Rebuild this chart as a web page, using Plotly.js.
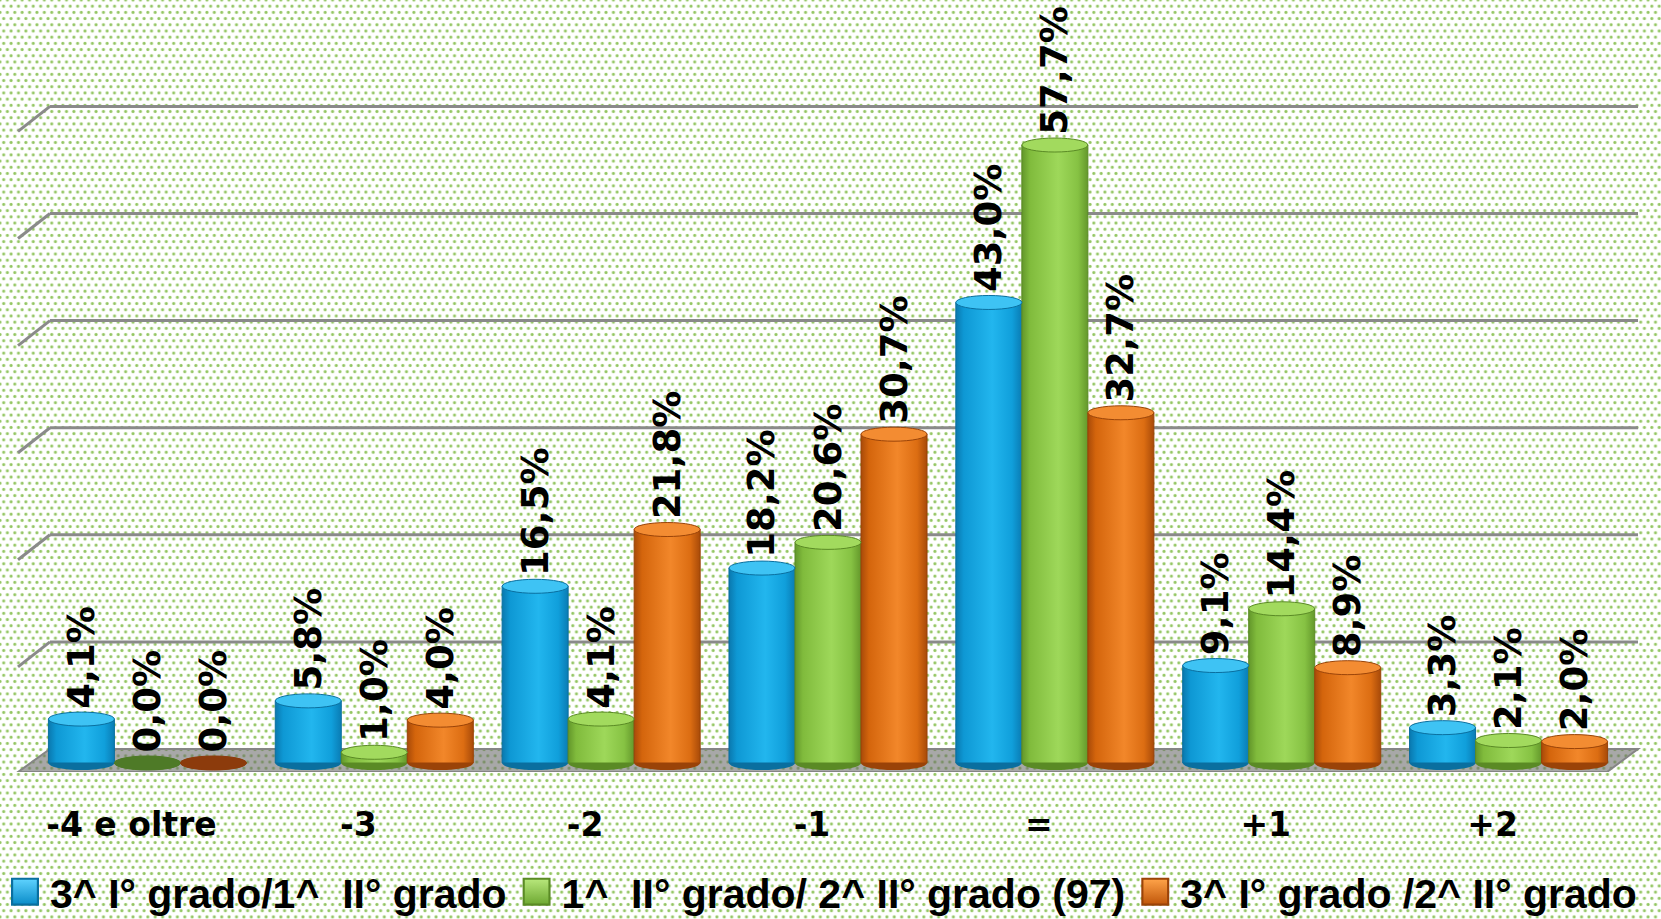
<!DOCTYPE html>
<html>
<head>
<meta charset="utf-8">
<script src="https://cdn.plot.ly/plotly-3.0.1.min.js"></script>
<style>
  html, body { margin: 0; padding: 0; background: #ffffff; }
  #chart {
    width: 1661px; height: 919px;
    background-color: #ffffff;
    background-image:
      radial-gradient(circle at center, #8cbf5c 0, #9ccb6e 1.1px, rgba(255,255,255,0) 2px),
      radial-gradient(circle at center, #8cbf5c 0, #9ccb6e 1.1px, rgba(255,255,255,0) 2px);
    background-size: 7.4px 12.4px;
    background-position: 0 0, 3.7px 6.2px;
  }
  #chart .barlayer .trace:nth-child(1) .point path { fill: url(#gBlue) !important; }
  #chart .barlayer .trace:nth-child(2) .point path { fill: url(#gGreen) !important; }
  #chart .barlayer .trace:nth-child(3) .point path { fill: url(#gOrange) !important; }
  #chart .legend .legendpoints path {
    transform-box: fill-box; transform-origin: center; transform: translate(25px, 0px) scale(2.15);
  }
  #chart .legend .traces:nth-child(1) .legendpoints path { fill: url(#gBlueV) !important; }
  #chart .legend .traces:nth-child(2) .legendpoints path { fill: url(#gGreenV) !important; }
  #chart .legend .traces:nth-child(3) .legendpoints path { fill: url(#gOrangeV) !important; }
</style>
</head>
<body>
<svg width="0" height="0" style="position:absolute">
  <defs>
    <linearGradient id="gBlue" x1="0" x2="1" y1="0" y2="0">
      <stop offset="0" stop-color="#0a78ae"/>
      <stop offset="0.12" stop-color="#0e98d4"/>
      <stop offset="0.55" stop-color="#22b6ee"/>
      <stop offset="0.85" stop-color="#109fdb"/>
      <stop offset="1" stop-color="#0a7cb4"/>
    </linearGradient>
    <linearGradient id="gGreen" x1="0" x2="1" y1="0" y2="0">
      <stop offset="0" stop-color="#62962a"/>
      <stop offset="0.12" stop-color="#80bb3c"/>
      <stop offset="0.55" stop-color="#9ed85a"/>
      <stop offset="0.85" stop-color="#86c243"/>
      <stop offset="1" stop-color="#64982b"/>
    </linearGradient>
    <linearGradient id="gOrange" x1="0" x2="1" y1="0" y2="0">
      <stop offset="0" stop-color="#a84a09"/>
      <stop offset="0.12" stop-color="#d4650c"/>
      <stop offset="0.55" stop-color="#f2872a"/>
      <stop offset="0.85" stop-color="#dc6d12"/>
      <stop offset="1" stop-color="#a84a09"/>
    </linearGradient>
    <linearGradient id="gBlueV" x1="0" x2="0" y1="0" y2="1">
      <stop offset="0" stop-color="#5fd3ff"/>
      <stop offset="1" stop-color="#0a8cc8"/>
    </linearGradient>
    <linearGradient id="gGreenV" x1="0" x2="0" y1="0" y2="1">
      <stop offset="0" stop-color="#b8e87c"/>
      <stop offset="1" stop-color="#6ea832"/>
    </linearGradient>
    <linearGradient id="gOrangeV" x1="0" x2="0" y1="0" y2="1">
      <stop offset="0" stop-color="#ffa44a"/>
      <stop offset="1" stop-color="#c0560a"/>
    </linearGradient>
  </defs>
</svg>
<div id="chart"></div>
<script>
// ---------------- data ----------------
const categories = ['-4 e oltre', '-3', '-2', '-1', '=', '+1', '+2'];
const seriesNames = [
  '3^ I° grado/1^\u00a0 II° grado',
  '1^\u00a0 II° grado/ 2^ II° grado (97)',
  '3^ I° grado /2^ II° grado'
];
const valuesBlue   = [4.1, 5.8, 16.5, 18.2, 43.0, 9.1, 3.3];
const valuesGreen  = [0.0, 1.0, 4.1, 20.6, 57.7, 14.4, 2.1];
const valuesOrange = [0.0, 4.0, 21.8, 30.7, 32.7, 8.9, 2.0];
const gridValues   = [10, 20, 30, 40, 50, 60];

// ---------------- styling / geometry ----------------
const W = 1661, H = 919;
const plotL = 34, plotR = 1622, plotT = 100, plotB = 772;
const pxPerUnit = 10.71;
const zeroPx = 763;
const wallZeroPx = 749;
const wallOffset = (zeroPx - wallZeroPx) / pxPerUnit;
const yRange = [(zeroPx - plotB) / pxPerUnit, (zeroPx - plotT) / pxPerUnit];
const barW = 0.291;
const offsets = [-1.5 * barW, -0.5 * barW, 0.5 * barW];

const series = [valuesBlue, valuesGreen, valuesOrange];
const midColors   = ['#15a6e2', '#8cc84a', '#e2701a'];
const edgeColors  = ['#0a6f9f', '#5a8a25', '#9a4308'];
const capColors   = ['#3ec3f4', '#a2da5e', '#f38c32'];
const zeroColors  = ['#0d6f9c', '#4e7a27', '#8c3b0c'];

const traces = series.map((vals, s) => ({
  type: 'bar',
  name: seriesNames[s],
  x: categories,
  y: vals,
  width: barW,
  offset: offsets[s],
  marker: { color: midColors[s], line: { color: edgeColors[s], width: 1 } },
  texttemplate: '\u2009%{y:.1f}%',
  textposition: 'outside',
  textangle: -90,
  constraintext: 'none',
  cliponaxis: false,
  textfont: { family: 'DejaVu Sans', size: 37, color: '#000000', weight: 'bold' },
  hoverinfo: 'skip'
}));

const shapes = [];
// floor
const frontY = (zeroPx - plotB) / pxPerUnit;
shapes.push({
  type: 'path', xref: 'paper', yref: 'y', layer: 'below',
  path: `M${50 / W},${wallOffset} L${1638 / W},${wallOffset} L${1607 / W},${frontY} L${18 / W},${frontY} Z`,
  fillcolor: 'rgba(105,105,105,0.58)',
  line: { color: '#858585', width: 2 }
});
// back-wall gridlines with side stubs
const stub = 25 / pxPerUnit;
gridValues.forEach(g => {
  const yv = g + wallOffset;
  shapes.push({ type: 'line', xref: 'paper', yref: 'y', layer: 'below',
    x0: 50 / W, x1: 1638 / W, y0: yv, y1: yv, line: { color: '#8a8a8a', width: 3 } });
  shapes.push({ type: 'line', xref: 'paper', yref: 'y', layer: 'below',
    x0: 18 / W, x1: 50 / W, y0: yv - stub, y1: yv, line: { color: '#8a8a8a', width: 3 } });
});
// cylinder bottoms and tops
series.forEach((vals, s) => {
  vals.forEach((v, i) => {
    const xa = i + offsets[s], xb = xa + barW;
    shapes.push({ type: 'circle', xref: 'x', yref: 'y', layer: 'below',
      ysizemode: 'pixel', yanchor: 0, y0: -7, y1: 7, x0: xa, x1: xb,
      fillcolor: edgeColors[s], line: { width: 0 } });
    shapes.push({ type: 'circle', xref: 'x', yref: 'y', layer: 'above',
      ysizemode: 'pixel', yanchor: v, y0: -7, y1: 7, x0: xa, x1: xb,
      fillcolor: v === 0 ? zeroColors[s] : capColors[s],
      line: { color: v === 0 ? zeroColors[s] : edgeColors[s], width: 1 } });
  });
});

const layout = {
  width: W, height: H,
  margin: { l: 0, r: 0, t: 0, b: 0, autoexpand: false },
  paper_bgcolor: 'rgba(0,0,0,0)',
  plot_bgcolor: 'rgba(0,0,0,0)',
  separators: ',.',
  barmode: 'overlay',
  showlegend: true,
  xaxis: {
    type: 'category',
    domain: [plotL / W, plotR / W],
    range: [-0.5, categories.length - 0.5],
    showgrid: false, zeroline: false, showline: false, ticks: '',
    tickfont: { family: 'DejaVu Sans', size: 33, color: '#000000', weight: 'bold' },
    ticklabelshift: -16,
    ticklabelstandoff: 30,
    fixedrange: true
  },
  yaxis: {
    domain: [1 - plotB / H, 1 - plotT / H],
    range: yRange,
    visible: false, showgrid: false, zeroline: false,
    fixedrange: true
  },
  legend: {
    orientation: 'h',
    x: 0, xanchor: 'left',
    y: 1 - 892 / H, yanchor: 'middle',
    itemwidth: 40,
    font: { family: 'Liberation Sans, Arial, sans-serif', size: 41, color: '#000000', weight: 'bold' },
    bgcolor: 'rgba(0,0,0,0)',
    itemclick: false, itemdoubleclick: false
  },
  shapes: shapes
};

Plotly.newPlot('chart', traces, layout, { displayModeBar: false, staticPlot: true });
</script>
</body>
</html>
